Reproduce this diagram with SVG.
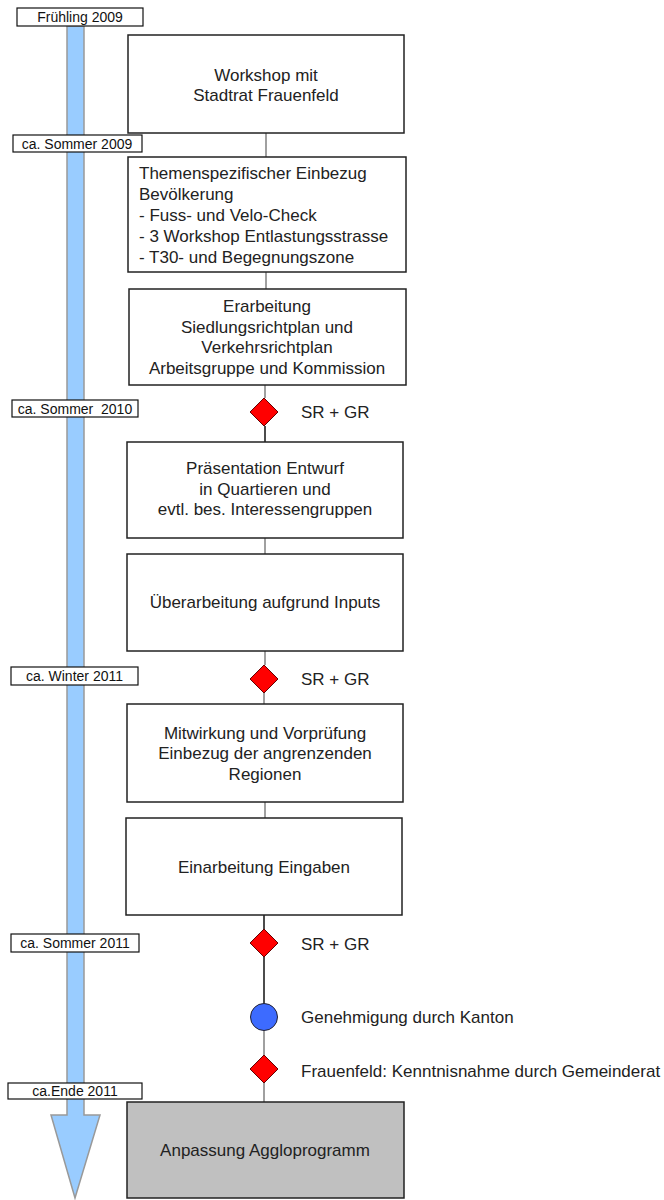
<svg xmlns="http://www.w3.org/2000/svg" width="664" height="1200" viewBox="0 0 664 1200">
<style>
.box{fill:#fff;stroke:#222;stroke-width:1.5}
.gbox{fill:#c0c0c0;stroke:#222;stroke-width:1.5}
.lbl{fill:#fff;stroke:#111;stroke-width:1.2}
.lt{font-family:"Liberation Sans",Arial,sans-serif;font-size:14px;fill:#111;text-anchor:middle}
.t{font-family:"Liberation Sans",Arial,sans-serif;font-size:17px;fill:#222;text-anchor:middle}
.tl{font-family:"Liberation Sans",Arial,sans-serif;font-size:17px;fill:#222}
.g{stroke:#808080;stroke-width:1.5;fill:none}
.k{stroke:#111;stroke-width:1.5;fill:none}
.dia{fill:#ff0000;stroke:#600;stroke-width:1}
</style>
<g id="timeline">
<path d="M67,26 L84,26 L84,1115 L100,1115 L75,1198 L51,1115 L67,1115 Z" fill="#99ccff" stroke="#999" stroke-width="1.5"/>
</g>
<g id="labels">
<g id="l1"><rect class="lbl" x="17" y="8" width="126" height="18"/><text class="lt" x="80" y="22">Frühling 2009</text></g>
<g id="l2"><rect class="lbl" x="13" y="135" width="129" height="17"/><text class="lt" x="77" y="148.5">ca. Sommer 2009</text></g>
<g id="l3"><rect class="lbl" x="12" y="400" width="126" height="17"/><text class="lt" x="75" y="413.5" xml:space="preserve">ca. Sommer  2010</text></g>
<g id="l4"><rect class="lbl" x="11" y="667" width="127" height="18"/><text class="lt" x="74.5" y="681">ca. Winter 2011</text></g>
<g id="l5"><rect class="lbl" x="11" y="934" width="128" height="18"/><text class="lt" x="75" y="948">ca. Sommer 2011</text></g>
<g id="l6"><rect class="lbl" x="8" y="1083" width="134" height="16"/><text class="lt" x="75" y="1096">ca.Ende 2011</text></g>
</g>
<g id="connectors">
<line class="g" x1="266" y1="133" x2="266" y2="157"/>
<line class="g" x1="266" y1="272" x2="266" y2="289"/>
<line class="g" x1="265" y1="385" x2="265" y2="398"/>
<line class="k" x1="265" y1="426" x2="265" y2="442"/>
<line class="g" x1="265" y1="538" x2="265" y2="554"/>
<line class="g" x1="265" y1="651" x2="265" y2="665"/>
<line class="g" x1="264" y1="693" x2="264" y2="704"/>
<line class="g" x1="265" y1="802" x2="265" y2="818"/>
<line class="k" x1="264" y1="915" x2="264" y2="929"/>
<line class="k" x1="264" y1="957" x2="264" y2="1004"/>
<line class="g" x1="264" y1="1030" x2="264" y2="1055"/>
<line class="g" x1="264" y1="1083" x2="264" y2="1102"/>
</g>
<g id="n1"><rect class="box" x="128" y="35" width="276" height="98"/><text class="t" x="266" y="81">Workshop mit</text><text class="t" x="266" y="101">Stadtrat Frauenfeld</text></g>
<g id="n2"><rect class="box" x="128" y="157" width="278" height="115"/>
<text class="tl" x="139" y="179">Themenspezifischer Einbezug</text>
<text class="tl" x="139" y="200">Bevölkerung</text>
<text class="tl" x="139" y="221">- Fuss- und Velo-Check</text>
<text class="tl" x="139" y="242">- 3 Workshop Entlastungsstrasse</text>
<text class="tl" x="139" y="263">- T30- und Begegnungszone</text></g>
<g id="n3"><rect class="box" x="129" y="289" width="277" height="96"/>
<text class="t" x="267" y="312">Erarbeitung</text>
<text class="t" x="267" y="333">Siedlungsrichtplan und</text>
<text class="t" x="267" y="353">Verkehrsrichtplan</text>
<text class="t" x="267" y="374">Arbeitsgruppe und Kommission</text></g>
<g id="d1"><polygon class="dia" points="264,398 278,412 264,426 250,412"/><text class="tl" x="301" y="418">SR + GR</text></g>
<g id="n4"><rect class="box" x="127" y="442" width="276" height="96"/>
<text class="t" x="265" y="474">Präsentation Entwurf</text>
<text class="t" x="265" y="495">in Quartieren und</text>
<text class="t" x="265" y="515">evtl. bes. Interessengruppen</text></g>
<g id="n5"><rect class="box" x="127" y="554" width="276" height="97"/>
<text class="t" x="265" y="608">Überarbeitung aufgrund Inputs</text></g>
<g id="d2"><polygon class="dia" points="264,665 278,679 264,693 250,679"/><text class="tl" x="301" y="685">SR + GR</text></g>
<g id="n6"><rect class="box" x="127" y="704" width="276" height="98"/>
<text class="t" x="265" y="739">Mitwirkung und Vorprüfung</text>
<text class="t" x="265" y="759">Einbezug der angrenzenden</text>
<text class="t" x="265" y="780">Regionen</text></g>
<g id="n7"><rect class="box" x="126" y="818" width="276" height="97"/>
<text class="t" x="264" y="873">Einarbeitung Eingaben</text></g>
<g id="d3"><polygon class="dia" points="264,929 278,943 264,957 250,943"/><text class="tl" x="301" y="950">SR + GR</text></g>
<g id="c1"><circle cx="264" cy="1017" r="13.5" fill="#3d6bff" stroke="#223" stroke-width="1"/><text class="tl" x="301" y="1023">Genehmigung durch Kanton</text></g>
<g id="d4"><polygon class="dia" points="264,1055 278,1069 264,1083 250,1069"/><text class="tl" x="301" y="1077">Frauenfeld: Kenntnisnahme durch Gemeinderat</text></g>
<g id="n8"><rect class="gbox" x="127" y="1102" width="277" height="96"/>
<text class="t" x="265" y="1156">Anpassung Aggloprogramm</text></g>
</svg>
